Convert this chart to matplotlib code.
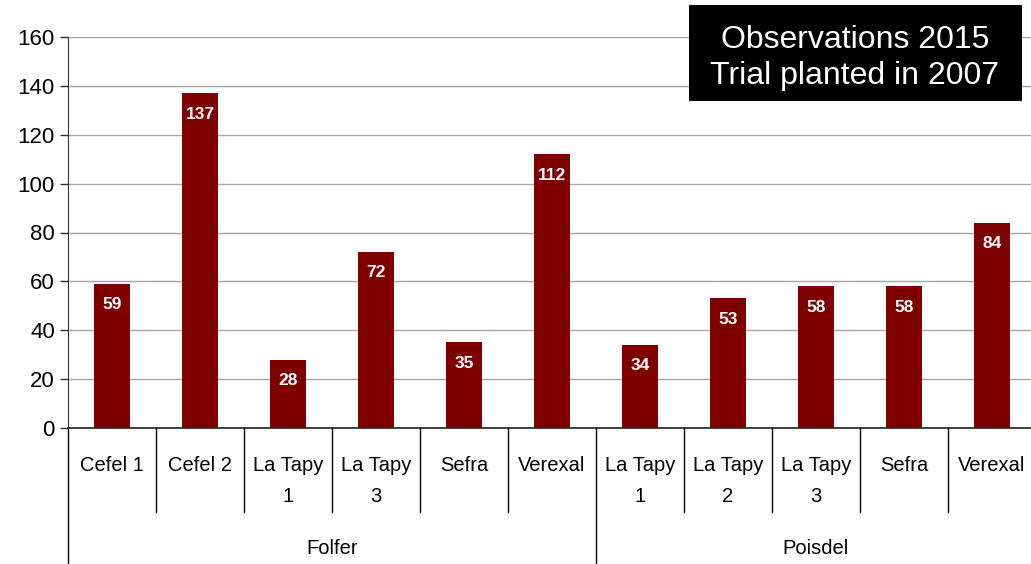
import matplotlib
matplotlib.use('Agg')
import matplotlib.pyplot as plt
import matplotlib.transforms as mtransforms
from matplotlib.patches import Rectangle
import numpy as np

plt.rcParams['font.family'] = ['Liberation Sans', 'DejaVu Sans']

varieties = ['Cefel 1', 'Cefel 2', 'La Tapy\n1', 'La Tapy\n3', 'Sefra', 'Verexal',
             'La Tapy\n1', 'La Tapy\n2', 'La Tapy\n3', 'Sefra', 'Verexal']
rootstocks = ['Folfer', 'Poisdel']
group_sizes = [6, 5]
counts = [59, 137, 28, 72, 35, 112, 34, 53, 58, 58, 84]

bar_color = '#7f0000'

fig = plt.figure(figsize=(10.31, 5.64), dpi=100)
ax = fig.add_axes([68 / 1031, 136 / 564, 968 / 1031, 391 / 564])

x = np.arange(len(counts))
ax.bar(x, counts, width=0.41, color=bar_color, zorder=3)

ax.set_xlim(-0.5, len(counts) - 0.5)
ax.set_ylim(0, 160)
ax.set_yticks(np.arange(0, 161, 20))
ax.tick_params(axis='y', labelsize=16, length=6, width=1, colors='#333333', labelcolor='black')
ax.set_xticks([])
ax.grid(axis='y', color='#a6a6a6', lw=1, zorder=0)
for s in ['top', 'right']:
    ax.spines[s].set_visible(False)
ax.spines['left'].set_color('#333333')
ax.spines['bottom'].set_color('#222222')
ax.spines['bottom'].set_linewidth(1.2)

# value labels inside bars
for i, v in enumerate(counts):
    ax.annotate(str(v), (x[i], v), xytext=(0, -15), textcoords='offset points',
                ha='center', va='center', color='white', fontsize=12.5, fontweight='bold')

# category labels and separators below the axis
trans = mtransforms.blended_transform_factory(ax.transData, ax.transAxes)
px = 1 / 391
for i, lab in enumerate(varieties):
    ax.text(x[i], -28 * px, lab, transform=trans, ha='center', va='top',
            fontsize=14.5, linespacing=1.8)

bounds = np.cumsum([0] + group_sizes) - 0.5
for b in np.arange(-0.5, len(counts) + 0.5):
    long = b in bounds
    ax.plot([b, b], [0, -(136 if long else 84) * px], transform=trans,
            color='black', lw=1, clip_on=False)

start = 0
for name, n in zip(rootstocks, group_sizes):
    ax.text(start + (n - 1) / 2, -120 * px, name, transform=trans, ha='center',
            va='center', fontsize=14.5)
    start += n

# annotation box in the top right corner
fig.patches.append(Rectangle((689 / 1031, 1 - 101 / 564), 333 / 1031, 96 / 564,
                             transform=fig.transFigure, fc='black', ec='none', zorder=5))
fig.text(855 / 1031, 1 - 58 / 564, 'Observations 2015\nTrial planted in 2007',
         ha='center', va='center', color='white', fontsize=23, linespacing=1.3, zorder=6)

plt.savefig('out.png', dpi=100)
